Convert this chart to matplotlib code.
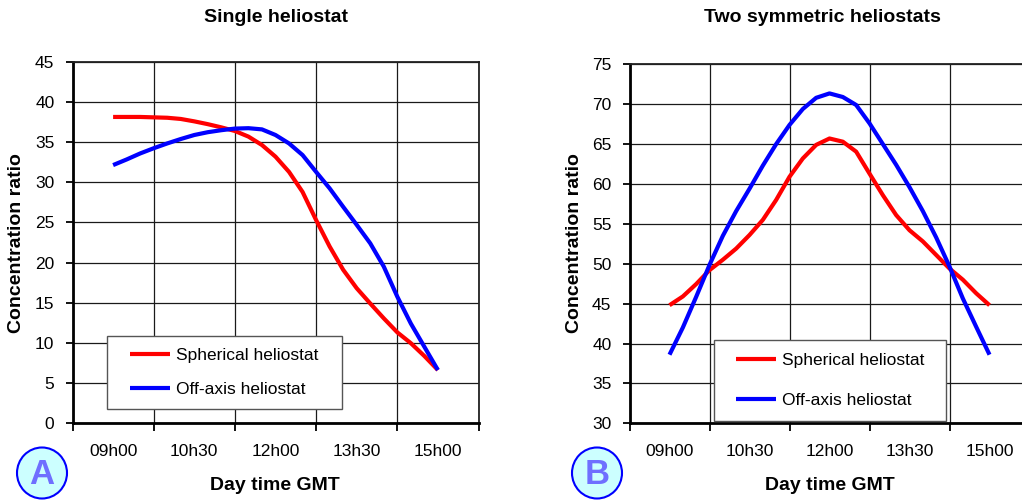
import matplotlib
matplotlib.use("Agg")
import matplotlib.pyplot as plt
from matplotlib.patches import Rectangle, Ellipse

plt.rcParams['font.family'] = ['Liberation Sans', 'DejaVu Sans']

# ---- data (hours of day, GMT, every 15 minutes) ----
times = [9.0, 9.25, 9.5, 9.75, 10.0, 10.25, 10.5, 10.75, 11.0, 11.25, 11.5, 11.75, 12.0,
         12.25, 12.5, 12.75, 13.0, 13.25, 13.5, 13.75, 14.0, 14.25, 14.5, 14.75, 15.0]

single_spherical = [38.15, 38.15, 38.15, 38.1, 38.05, 37.9, 37.6, 37.25, 36.85, 36.4, 35.7, 34.65, 33.2,
                    31.3, 28.8, 25.3, 22.0, 19.1, 16.8, 14.9, 13.05, 11.3, 9.95, 8.35, 6.6]
single_offaxis = [32.15, 32.85, 33.6, 34.25, 34.85, 35.4, 35.9, 36.25, 36.5, 36.7, 36.75, 36.6, 35.9,
                  34.85, 33.4, 31.3, 29.25, 26.95, 24.7, 22.4, 19.5, 15.75, 12.4, 9.5, 6.6]

two_spherical = [44.8, 45.9, 47.45, 49.2, 50.5, 51.9, 53.6, 55.5, 58.0, 60.9, 63.2, 64.9, 65.7,
                 65.3, 64.05, 61.3, 58.6, 56.1, 54.2, 52.8, 51.1, 49.4, 48.0, 46.3, 44.8]
two_offaxis = [38.6, 42.0, 45.85, 49.85, 53.5, 56.6, 59.4, 62.3, 65.0, 67.4, 69.4, 70.8, 71.35,
               70.9, 69.9, 67.6, 65.0, 62.4, 59.6, 56.6, 53.3, 49.65, 45.65, 42.1, 38.6]

tick_labels = ["09h00", "10h30", "12h00", "13h30", "15h00"]
tick_times = [9.0, 10.5, 12.0, 13.5, 15.0]
grid_times = [8.25, 9.75, 11.25, 12.75, 14.25, 15.75]

series_names = ["Spherical heliostat", "Off-axis heliostat"]
titles = ["Single heliostat", "Two symmetric heliostats"]
ylabel = "Concentration ratio"
xlabel = "Day time GMT"

W, H = 1022, 500
fig = plt.figure(figsize=(W / 100, H / 100), dpi=100)


def fx(px):
    return px / W


def fy(py):
    return 1 - py / H


def make_axes(x0, x1, ytop, ybot, ylim, yticks):
    ax = fig.add_axes([fx(x0), fy(ybot), fx(x1) - fx(x0), fy(ytop) - fy(ybot)])
    ax.set_xlim(grid_times[0], grid_times[-1])
    ax.set_ylim(*ylim)
    ax.set_yticks(yticks)
    ax.set_xticks(grid_times)
    ax.set_xticklabels([])
    ax.set_xticks(tick_times, minor=True)
    ax.set_xticklabels(tick_labels, minor=True)
    ax.tick_params(axis='x', which='major', length=6, width=1.3, direction='out', color='black')
    ax.tick_params(axis='x', which='minor', length=0, pad=15, labelsize=12.5)
    ax.tick_params(axis='y', which='major', length=5, width=1.3, direction='out', pad=8, labelsize=12.5)
    ax.grid(True, which='major', color='#1a1a1a', linewidth=0.9)
    ax.set_axisbelow(True)
    for s in ['left', 'bottom']:
        ax.spines[s].set_linewidth(2.0)
        ax.spines[s].set_color('black')
    for s in ['top', 'right']:
        ax.spines[s].set_linewidth(1.3)
        ax.spines[s].set_color('#222222')
    return ax


LW = 3.0

# ---- left chart ----
axA = make_axes(72.5, 478.5, 62, 423, (0, 45), range(0, 46, 5))
axA.plot(times, single_spherical, color='#ff0000', lw=LW, solid_joinstyle='round',
         solid_capstyle='butt', label=series_names[0], zorder=3)
axA.plot(times, single_offaxis, color='#0000ff', lw=LW, solid_joinstyle='round',
         solid_capstyle='butt', label=series_names[1], zorder=3)

# ---- right chart ----
axB = make_axes(629.5, 1029.5, 64.3, 423.3, (30, 75), range(30, 76, 5))
axB.plot(times, two_spherical, color='#ff0000', lw=LW, solid_joinstyle='round',
         solid_capstyle='butt', label=series_names[0], zorder=3)
axB.plot(times, two_offaxis, color='#0000ff', lw=LW, solid_joinstyle='round',
         solid_capstyle='butt', label=series_names[1], zorder=3)


def legend_box(ax, x0, x1, y0, y1, spacing):
    inv = ax.transAxes.inverted()
    (ax0, ay1) = inv.transform((x0, H - y0))
    (ax1, ay0) = inv.transform((x1, H - y1))
    rect = Rectangle((ax0, ay0), ax1 - ax0, ay1 - ay0, transform=ax.transAxes,
                     facecolor='white', edgecolor='#555555', lw=1.0, zorder=4, clip_on=False)
    ax.add_patch(rect)
    leg = ax.legend(loc='center', bbox_to_anchor=((ax0 + ax1) / 2, (ay0 + ay1) / 2),
                    frameon=False, fontsize=12.5, handlelength=2.3, handletextpad=0.35,
                    labelspacing=spacing, borderpad=0.0)
    leg.set_zorder(5)
    for line in leg.get_lines():
        line.set_linewidth(LW)


fig.canvas.draw()
legend_box(axA, 107, 342, 336, 409, 1.05)
legend_box(axB, 714, 946, 340, 420.7, 1.4)

# titles and labels
fig.text(fx(275.5), fy(17.5), titles[0], ha='center', va='center', fontsize=14, fontweight='bold')
fig.text(fx(822), fy(17.5), titles[1], ha='center', va='center', fontsize=14, fontweight='bold')
fig.text(fx(274.5), fy(486), xlabel, ha='center', va='center', fontsize=14, fontweight='bold')
fig.text(fx(829.5), fy(486), xlabel, ha='center', va='center', fontsize=14, fontweight='bold')
fig.text(fx(17), fy(243), ylabel, ha='center', va='center', rotation=90, fontsize=14, fontweight='bold')
fig.text(fx(574), fy(243), ylabel, ha='center', va='center', rotation=90, fontsize=14, fontweight='bold')

# circled panel letters
for cx, letter in [(42, 'A'), (597, 'B')]:
    e = Ellipse((fx(cx), fy(473)), 50 / W, 51 / H, transform=fig.transFigure,
                facecolor='#ccffff', edgecolor='#0000ff', lw=1.5)
    fig.add_artist(e)
    fig.text(fx(cx), fy(474), letter, ha='center', va='center', fontsize=25,
             fontweight='bold', color='#6f6fff')

fig.savefig('out.png', dpi=100)
